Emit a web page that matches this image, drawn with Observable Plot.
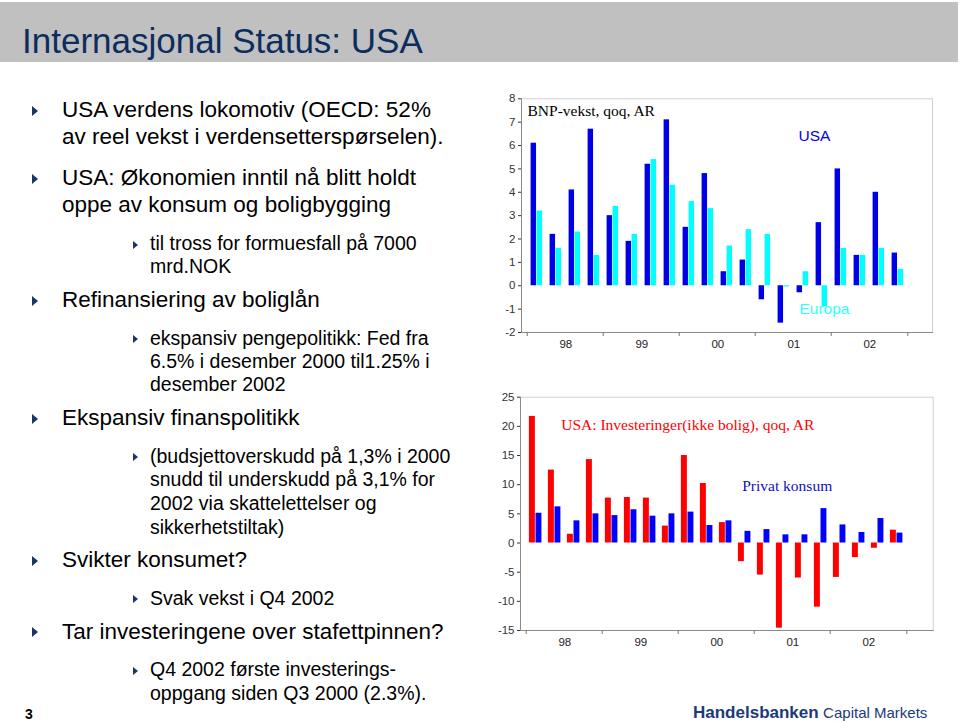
<!DOCTYPE html>
<html><head><meta charset="utf-8">
<script src="https://cdn.jsdelivr.net/npm/d3@7"></script>
<script src="https://cdn.jsdelivr.net/npm/@observablehq/plot@0.6"></script>
<style>
body{margin:0;background:#fff;font-family:Arial,"Liberation Sans",sans-serif;}
#page{position:relative;width:960px;height:722px;overflow:hidden;background:#fff;}
#header{position:absolute;left:0;top:2px;width:958px;height:60px;background:#c0c0c0;}
#title{position:absolute;left:22px;top:20.5px;font-size:35px;line-height:1;color:#0c2d5e;white-space:nowrap;}
.l{position:absolute;white-space:nowrap;color:#000;line-height:1;}
.b{position:absolute;width:0;height:0;border-style:solid;border-color:transparent transparent transparent #1a3564;}
#chartTop{position:absolute;left:480px;top:85px;}
#chartBottom{position:absolute;left:480px;top:380px;}
#pnum{position:absolute;left:25px;top:707px;font-size:14px;font-weight:bold;line-height:1;color:#000;}
#logo{position:absolute;left:693px;top:704px;white-space:nowrap;color:#1b3a78;line-height:1;}
#logo b{font-size:17px;}
#logo span{font-size:15px;}
</style>
</head><body>
<div id="page">
  <div id="header"><div id="title">Internasjonal Status: USA</div></div>
  <div id="text"></div>
  <div id="chartTop"></div>
  <div id="chartBottom"></div>
  <div id="pnum">3</div>
  <div id="logo"><b>Handelsbanken</b> <span>Capital Markets</span></div>
</div>
<script>
// ---- data ----
const quarters = ["98Q1","98Q2","98Q3","98Q4","99Q1","99Q2","99Q3","99Q4","00Q1","00Q2","00Q3","00Q4","01Q1","01Q2","01Q3","01Q4","02Q1","02Q2","02Q3","02Q4"];
const yearLabels = ["98","99","00","01","02"];
const usaGdp  = [6.1,2.2,4.1,6.7,3.0,1.9,5.2,7.1,2.5,4.8,0.6,1.1,-0.6,-1.6,-0.3,2.7,5.0,1.3,4.0,1.4];
const euroGdp = [3.2,1.6,2.3,1.3,3.4,2.2,5.4,4.3,3.6,3.3,1.7,2.4,2.2,-0.05,0.6,-0.9,1.6,1.3,1.6,0.7];
const usaInvestment  = [21.7,12.5,1.5,14.3,7.7,7.8,7.7,2.9,15.0,10.2,3.5,-3.2,-5.5,-14.6,-6.0,-11.0,-5.9,-2.5,-0.9,2.2];
const usaConsumption = [5.1,6.2,3.8,5.0,4.7,5.7,4.6,5.0,5.3,3.0,3.8,2.0,2.3,1.4,1.4,5.9,3.1,1.8,4.2,1.7];
const yTicksTop = [-2,-1,0,1,2,3,4,5,6,7,8];
const yTicksBottom = [-15,-10,-5,0,5,10,15,20,25];

// ---- bullet text ----
const bullets = [
  {lvl:1, y:110, t:"USA verdens lokomotiv (OECD: 52%", bullet:true},
  {lvl:1, y:137.3, t:"av reel vekst i verdensetterspørselen)."},
  {lvl:1, y:178.3, t:"USA: Økonomien inntil nå blitt holdt", bullet:true},
  {lvl:1, y:205, t:"oppe av konsum og boligbygging"},
  {lvl:2, y:244, t:"til tross for formuesfall på 7000", bullet:true},
  {lvl:2, y:266.7, t:"mrd.NOK"},
  {lvl:1, y:300, t:"Refinansiering av boliglån", bullet:true},
  {lvl:2, y:338.3, t:"ekspansiv pengepolitikk: Fed fra", bullet:true},
  {lvl:2, y:361.7, t:"6.5% i desember 2000 til1.25% i"},
  {lvl:2, y:385, t:"desember 2002"},
  {lvl:1, y:418.3, t:"Ekspansiv finanspolitikk", bullet:true},
  {lvl:2, y:456.7, t:"(budsjettoverskudd på 1,3% i 2000", bullet:true},
  {lvl:2, y:480, t:"snudd til underskudd på 3,1% for"},
  {lvl:2, y:504, t:"2002 via skattelettelser og"},
  {lvl:2, y:527.3, t:"sikkerhetstiltak)"},
  {lvl:1, y:560, t:"Svikter konsumet?", bullet:true},
  {lvl:2, y:598.3, t:"Svak vekst i Q4 2002", bullet:true},
  {lvl:1, y:631.7, t:"Tar investeringene over stafettpinnen?", bullet:true},
  {lvl:2, y:670, t:"Q4 2002 første investerings-", bullet:true},
  {lvl:2, y:693.3, t:"oppgang siden Q3 2000 (2.3%)."}
];
const textBox = document.getElementById("text");
for (const b of bullets) {
  const fs = b.lvl === 1 ? 22.5 : 19.5;
  const d = document.createElement("div");
  d.className = "l";
  d.style.fontSize = fs + "px";
  d.style.left = (b.lvl === 1 ? 62 : 150) + "px";
  d.style.top = (b.y - 0.4885 * fs) + "px";
  d.textContent = b.t;
  textBox.appendChild(d);
  if (b.bullet) {
    const t = document.createElement("div");
    t.className = "b";
    const h = b.lvl === 1 ? 5.5 : 4.5, w = b.lvl === 1 ? 6.5 : 5;
    t.style.borderWidth = `${h}px 0 ${h}px ${w}px`;
    t.style.left = (b.lvl === 1 ? 32 : 133) + "px";
    t.style.top = (b.y + 1 - h) + "px";
    textBox.appendChild(t);
  }
}

// ---- charts ----
const font = "Arial, 'Liberation Sans', sans-serif";
const serif = "'Times New Roman', 'Liberation Serif', serif";

function groupedChart({a, b, colorA, colorB, yDomain, yTicks, mL, mR, mT, mB, bw, insA, split, insB, labels, padX}) {
  const table = quarters.map((q, i) => ({q, a: a[i], b: b[i]}));
  const firstQ = quarters.filter((q, i) => i % 4 === 0);
  const midQ = quarters.filter((q, i) => i % 4 === 1);
  return Plot.plot({
    width: 480, height: 280,
    marginLeft: mL, marginRight: mR, marginTop: mT, marginBottom: mB,
    style: {fontFamily: font, fontSize: "11.5px", color: "#222", background: "transparent", overflow: "visible"},
    x: {type: "band", domain: quarters, range: [mL, mL + 20 * bw], padding: 0},
    y: {domain: yDomain},
    marks: [
      Plot.frame({stroke: "#cfcfcf"}),
      Plot.barY(table, {x: "q", y: "a", fill: colorA, insetLeft: insA, insetRight: bw - split}),
      Plot.barY(table, {x: "q", y: "b", fill: colorB, insetLeft: split, insetRight: insB}),
      Plot.frame({anchor: "left", stroke: "#8a8a8a"}),
      Plot.frame({anchor: "bottom", stroke: "#8a8a8a"}),
      Plot.axisY({ticks: yTicks, tickSize: 3, tickPadding: 3, label: null, color: "#333", tickFormat: (d) => String(d)}),
      Plot.axisX({ticks: firstQ, tickSize: 4, dx: -bw / 2, tickFormat: () => "", label: null, color: "#777"}),
      Plot.axisX({ticks: [quarters[quarters.length - 1]], tickSize: 4, dx: bw / 2, tickFormat: () => "", label: null, color: "#777"}),
      Plot.axisX({ticks: midQ, tickSize: 0, tickPadding: padX, dx: bw / 2, tickFormat: (d) => yearLabels[Math.floor(quarters.indexOf(d) / 4)], label: null, color: "#222"}),
      ...labels.map(l => Plot.text([l.t], {text: d => d, frameAnchor: "top-left", dx: l.dx, dy: l.dy, textAnchor: "start", lineAnchor: "middle", fontFamily: l.font, fontSize: 15.5, fill: l.color}))
    ]
  });
}

document.getElementById("chartTop").appendChild(groupedChart({
  a: usaGdp, b: euroGdp, colorA: "#0000e6", colorB: "#00ffff",
  yDomain: [-2, 8], yTicks: yTicksTop,
  mL: 41, mR: 28, mT: 13.3, mB: 33, bw: 391 / 20,
  insA: 3.6, split: 9.6, insB: 3.95, padX: 7,
  labels: [
    {t: "BNP-vekst, qoq, AR", dx: 6, dy: 12.7, font: serif, color: "#000"},
    {t: "USA", dx: 277, dy: 37.4, font: font, color: "#0000e6"},
    {t: "Europa", dx: 278, dy: 210.7, font: font, color: "#33ffff"}
  ]
}));

document.getElementById("chartBottom").appendChild(groupedChart({
  a: usaInvestment, b: usaConsumption, colorA: "#ff0000", colorB: "#0000ff",
  yDomain: [-15, 25], yTicks: yTicksBottom,
  mL: 40, mR: 27.3, mT: 16.7, mB: 30, bw: 392.6 / 20,
  insA: 2.9, split: 9.5, insB: 3.6, padX: 7.5,
  labels: [
    {t: "USA: Investeringer(ikke bolig), qoq, AR", dx: 40.7, dy: 28.3, font: serif, color: "#ff0000"},
    {t: "Privat konsum", dx: 221.7, dy: 89.3, font: serif, color: "#1010c0"}
  ]
}));
</script>
</body></html>
